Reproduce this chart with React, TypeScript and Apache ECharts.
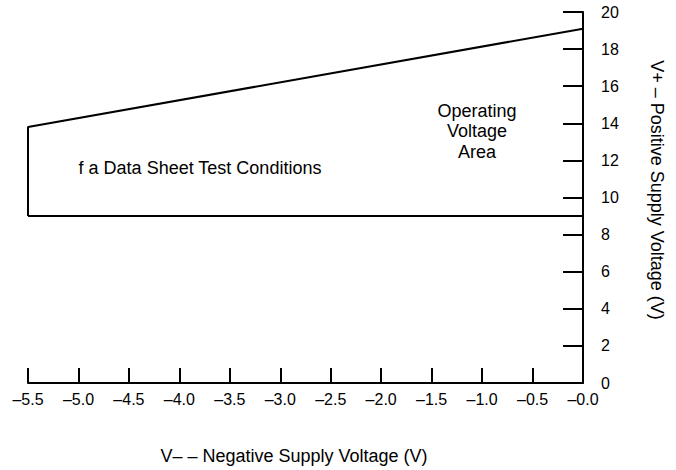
import React, { useEffect, useRef } from "react";
import * as echarts from "echarts";

const FONT = "Liberation Sans, Arial, Helvetica, sans-serif";

// x-axis (V–) tick values and labels
const xTickValues = [-5.5, -5.0, -4.5, -4.0, -3.5, -3.0, -2.5, -2.0, -1.5, -1.0, -0.5, 0.0];
const xTickLabels = ["–5.5", "–5.0", "–4.5", "–4.0", "–3.5", "–3.0", "–2.5", "–2.0", "–1.5", "–1.0", "–0.5", "–0.0"];
// y-axis (V+) tick labels
const yTickValues = [0, 2, 4, 6, 8, 10, 12, 14, 16, 18, 20];
const yTickLabels = ["0", "2", "4", "6", "8", "10", "12", "14", "16", "18", "20"];

// operating area boundary: left edge + top (max V+) line
const upperBoundary: [number, number][] = [
  [-5.5, 9.0],
  [-5.5, 13.8],
  [0.0, 19.1],
];
// minimum V+ line
const lowerBoundary: [number, number][] = [
  [-5.5, 9.0],
  [0.0, 9.0],
];

const xName = "V– – Negative Supply Voltage (V)";
const yName = "V+ – Positive Supply Voltage (V)";
const areaLabel = "Operating\nVoltage\nArea";
const testLabel = "f a Data Sheet Test Conditions";

export default function App() {
  const ref = useRef<HTMLDivElement>(null);
  useEffect(() => {
    if (!ref.current) return;
    const chart = echarts.init(ref.current, null, { renderer: "svg" });
    chart.setOption({
      animation: false,
      backgroundColor: "#ffffff",
      grid: { left: 28, right: 93, top: 12, bottom: 87, containLabel: false },
      xAxis: {
        type: "value",
        min: -5.5,
        max: 0,
        interval: 0.5,
        axisLine: { show: true, onZero: false, lineStyle: { color: "#000", width: 2 } },
        axisTick: { show: true, inside: true, length: 15, lineStyle: { color: "#000", width: 2 } },
        splitLine: { show: false },
        axisLabel: {
          color: "#000",
          fontSize: 16,
          fontFamily: FONT,
          margin: 8,
          formatter: (v: number) => {
            const i = xTickValues.findIndex((t) => Math.abs(t - v) < 1e-6);
            return i >= 0 ? xTickLabels[i] : "";
          },
        },
      },
      yAxis: {
        type: "value",
        position: "right",
        min: 0,
        max: 20,
        interval: 2,
        axisLine: { show: true, onZero: false, lineStyle: { color: "#000", width: 2 } },
        axisTick: { show: true, inside: true, length: 20, lineStyle: { color: "#000", width: 2 } },
        splitLine: { show: false },
        axisLabel: {
          color: "#000",
          fontSize: 16,
          fontFamily: FONT,
          margin: 18,
          formatter: (v: number) => {
            const i = yTickValues.findIndex((t) => Math.abs(t - v) < 1e-6);
            return i >= 0 ? yTickLabels[i] : "";
          },
        },
      },
      series: [
        {
          type: "line",
          data: upperBoundary,
          symbol: "none",
          lineStyle: { color: "#000", width: 2 },
          silent: true,
        },
        {
          type: "line",
          data: lowerBoundary,
          symbol: "none",
          lineStyle: { color: "#000", width: 2 },
          silent: true,
        },
      ],
      graphic: [
        {
          type: "text",
          x: 200,
          y: 168,
          style: {
            text: testLabel,
            fontSize: 18,
            fontFamily: FONT,
            fill: "#000",
            align: "center",
            verticalAlign: "middle",
          },
        },
        {
          type: "text",
          x: 477,
          y: 131,
          style: {
            text: areaLabel,
            fontSize: 18,
            lineHeight: 20.5,
            fontFamily: FONT,
            fill: "#000",
            align: "center",
            verticalAlign: "middle",
          },
        },
        {
          type: "text",
          x: 294,
          y: 456,
          style: {
            text: xName,
            fontSize: 18,
            fontFamily: FONT,
            fill: "#000",
            align: "center",
            verticalAlign: "middle",
          },
        },
        {
          type: "text",
          x: 657,
          y: 190,
          rotation: -Math.PI / 2,
          style: {
            text: yName,
            fontSize: 18,
            fontFamily: FONT,
            fill: "#000",
            align: "center",
            verticalAlign: "middle",
          },
        },
      ],
    });
    return () => chart.dispose();
  }, []);
  return (
    <div
      ref={ref}
      style={{ position: "fixed", left: 0, top: 0, width: 676, height: 470 }}
    />
  );
}
